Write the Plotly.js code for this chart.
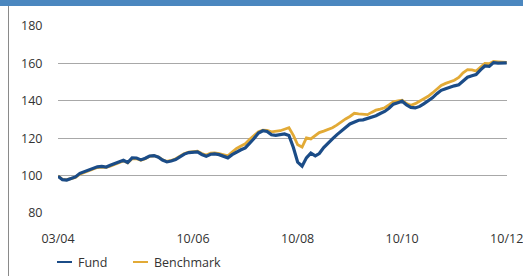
<!DOCTYPE html>
<html>
<head>
<meta charset="utf-8">
<script src="https://cdn.plot.ly/plotly-3.0.1.min.js"></script>
<style>
  html, body { margin: 0; padding: 0; background: #fff; }
  #wrap { position: relative; width: 523px; height: 276px; overflow: hidden; }
  #topbar { position: absolute; left: 0; top: 0; width: 523px; height: 6px; background: #4b87bf; }
  #leftline { position: absolute; left: 8px; top: 6px; width: 1px; height: 270px; background: #8a8a8a; }
  #chart { position: absolute; left: 0; top: 0; width: 523px; height: 276px; }
</style>
</head>
<body>
<div id="wrap">
  <div id="chart"></div>
  <div id="topbar"></div>
  <div id="leftline"></div>
</div>
<script>
// Monthly observations starting March 2004
var startYear = 2004, startMonth = 3;

var fund = [
  99.6, 97.8, 97.6, 98.4, 99.3, 101.2, 102.2, 103.0, 103.8, 104.7,
  104.9, 104.6, 105.5, 106.5, 107.6, 108.2, 107.0, 109.5, 109.4, 108.4,
  109.3, 110.5, 110.7, 109.8, 108.3, 107.3, 107.8, 108.6, 110.0, 111.5,
  112.3, 112.5, 112.7, 111.3, 110.3, 111.4, 111.6, 111.2, 110.3, 109.5,
  111.2, 112.6, 113.8, 114.8, 117.2, 119.8, 122.8, 124.0, 123.6, 121.8,
  121.5, 121.8, 122.3, 121.5, 115.0, 107.2, 105.0, 109.5, 112.0, 110.5,
  111.8, 115.0, 117.5, 119.6, 121.8, 124.0, 125.7, 127.6, 128.8, 129.6,
  129.8, 130.5, 131.2, 132.0, 133.2, 134.3, 136.0, 138.2, 139.0, 139.8,
  137.8, 136.5, 136.2, 137.0, 138.4, 140.0, 141.6, 143.8, 145.6, 146.5,
  147.4, 148.0, 148.6, 150.5, 152.6, 153.4, 154.0, 156.5, 158.6, 158.4,
  160.4, 160.2, 160.2, 160.3
];

var benchmark = [
  99.8, 98.0, 97.8, 98.3, 99.0, 100.8, 101.8, 102.6, 103.4, 104.3,
  104.6, 104.4, 105.1, 106.1, 107.2, 107.9, 106.8, 109.0, 109.1, 108.2,
  109.0, 110.3, 110.6, 109.9, 108.5, 107.6, 108.1, 109.0, 110.4, 111.8,
  112.6, 112.8, 113.0, 111.8, 111.0, 112.0, 112.2, 111.8, 111.2, 110.6,
  112.6, 114.5, 115.8, 117.0, 119.4, 121.5, 123.5, 124.3, 124.2, 123.4,
  123.6, 124.0, 124.8, 125.6, 121.5, 116.5, 115.3, 120.2, 119.6, 121.5,
  123.0, 123.8, 124.6, 125.6, 127.0, 128.8, 130.3, 131.6, 133.3, 133.0,
  132.6, 132.6, 133.8, 135.0, 135.6, 136.3, 137.8, 139.5, 140.0, 140.3,
  138.5, 137.6, 138.5, 139.8, 140.8, 142.4, 144.2, 146.3, 148.2, 149.3,
  150.0, 151.0, 152.5, 155.0, 156.7, 156.5, 155.9, 158.0, 160.0, 159.8,
  161.0, 160.8, 160.6, 160.5
];

var tickDates = ["2004-03-01", "2006-10-01", "2008-10-01", "2010-10-01", "2012-10-01"];
var tickLabels = ["03/04", "10/06", "10/08", "10/10", "10/12"];
var yTicks = [80, 100, 120, 140, 160, 180];
var seriesNames = ["Fund", "Benchmark"];

function monthDate(i) {
  var m = startMonth - 1 + i;
  var y = startYear + Math.floor(m / 12);
  var mm = (m % 12) + 1;
  return y + "-" + (mm < 10 ? "0" + mm : mm) + "-01";
}
var dates = fund.map(function (_, i) { return monthDate(i); });

var colFund = "#1b4c87";
var colBench = "#e2aa36";
var font = "'Open Sans', 'Noto Sans', sans-serif";

var traces = [
  { x: dates, y: benchmark, type: "scatter", mode: "lines", name: seriesNames[1],
    line: { color: colBench, width: 2.8 }, hoverinfo: "skip" },
  { x: dates, y: fund, type: "scatter", mode: "lines", name: seriesNames[0],
    line: { color: colFund, width: 3.2 }, hoverinfo: "skip" }
];

// custom legend (pixel positions converted to paper coordinates)
var L = 58, R = 507, T = 26, B = 213;
function px(x) { return (x - L) / (R - L); }
function py(y) { return (B - y) / (B - T); }

var layout = {
  width: 523, height: 276,
  margin: { l: L, r: 523 - R, t: T, b: 276 - B, pad: 0 },
  paper_bgcolor: "#fff", plot_bgcolor: "#fff",
  showlegend: false,
  font: { family: font, size: 12, color: "#333" },
  xaxis: {
    type: "date",
    range: ["2004-03-01", "2012-10-03"],
    tickvals: tickDates, ticktext: tickLabels,
    showgrid: false, zeroline: false, showline: false,
    ticks: "outside", ticklen: 14, tickcolor: "rgba(0,0,0,0)",
    tickfont: { family: font, size: 12.5, color: "#333" },
    ticklabeloverflow: "allow",
    fixedrange: true
  },
  yaxis: {
    range: [80, 180],
    tickvals: yTicks,
    showgrid: true, gridcolor: "#a8a8a8", gridwidth: 1,
    zeroline: false, showline: false,
    ticks: "outside", ticklen: 12, tickcolor: "rgba(0,0,0,0)",
    tickfont: { family: font, size: 12.5, color: "#333" },
    fixedrange: true
  },
  shapes: [
    { type: "line", xref: "paper", yref: "paper", x0: px(57), x1: px(72), y0: py(262), y1: py(262),
      line: { color: colFund, width: 2 } },
    { type: "line", xref: "paper", yref: "paper", x0: px(133), x1: px(148), y0: py(262), y1: py(262),
      line: { color: colBench, width: 2 } }
  ],
  annotations: [
    { xref: "paper", yref: "paper", x: px(76), y: py(262), xanchor: "left", yanchor: "middle",
      text: seriesNames[0], showarrow: false, font: { family: font, size: 12.5, color: "#333" } },
    { xref: "paper", yref: "paper", x: px(152), y: py(262), xanchor: "left", yanchor: "middle",
      text: seriesNames[1], showarrow: false, font: { family: font, size: 12.5, color: "#333" } }
  ]
};

Plotly.newPlot("chart", traces, layout, { staticPlot: true, displayModeBar: false });
</script>
</body>
</html>
